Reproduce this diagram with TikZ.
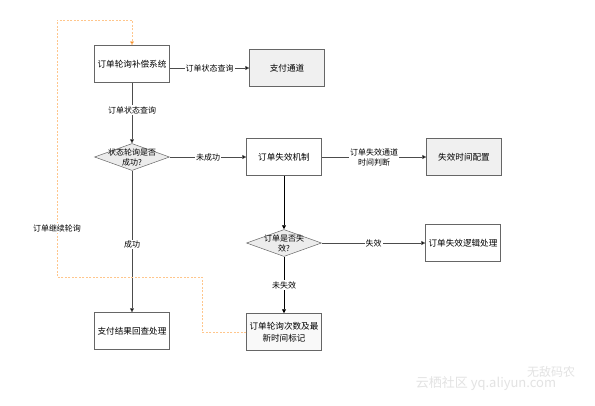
\documentclass[tikz,border=0pt]{standalone}
\usepackage{fontspec}
\setmainfont{Noto Sans CJK SC}
\usetikzlibrary{arrows.meta,shapes.geometric,shadows}
\begin{document}
\begin{tikzpicture}[x=1pt,y=-1pt,
  box/.style={draw=gray!80!black, line width=0.5pt, fill=white, minimum width=75pt, minimum height=37pt, align=center, font=\fontsize{8.6}{12}\selectfont, inner sep=1pt, drop shadow={shadow xshift=0.8pt, shadow yshift=-0.8pt, opacity=0.35}},
  gbox/.style={box, fill=gray!12},
  dia/.style={diamond, draw=gray!80!black, fill=gray!15, line width=0.5pt, minimum width=75pt, minimum height=27pt, inner sep=0pt},
  dtext/.style={align=center, font=\fontsize{8}{10}\selectfont, inner sep=0pt},
  conn/.style={draw=gray!60!black, line width=0.6pt, -{Triangle[length=4pt,width=4pt,fill=black]}},
  lab/.style={fill=white, font=\fontsize{8}{10}\selectfont, inner sep=1pt, align=center},
  loopline/.style={draw=orange!45, dashed, dash pattern=on 2pt off 1.5pt, line width=0.5pt},
  wmark/.style={text=gray!22, inner sep=0pt}
]
\useasboundingbox[fill=white] (0,0) rectangle (595,405);

\node[box] (a) at (132,64) {订单轮询补偿系统};
\node[gbox] (b) at (287,68) {支付通道};
\node[dia] (d1) at (132,157) {};
\node[dtext] (d1t) at (d1) {状态轮询是否\\成功?};
\node[box] (c) at (284,157) {订单失效机制};
\node[gbox] (e) at (464,157) {失效时间配置};
\node[dia] (d2) at (284,243) {};
\node[dtext] (d2t) at (d2) {订单是否失\\效?};
\node[box] (f) at (463,243) {订单失效逻辑处理};
\node[box, fill=gray!5] (g) at (284,332) {订单轮询次数及最\\新时间标记};
\node[box] (h) at (132,331) {支付结果回查处理};

\draw[conn] (a.east |- b.west) -- node[lab] {订单状态查询} (b.west);
\draw[conn] (a.south) -- node[lab, pos=0.45] {订单状态查询} (d1.north);
\draw[conn] (d1.east) -- node[lab] {未成功} (c.west);
\draw[conn] (c.east) -- node[lab] {订单失效通道\\时间判断} (e.west);
\draw[conn, draw=black, line width=0.8pt] (c.south) -- (d2.north);
\draw[conn] (d2.east) -- node[lab] {失效} (f.west);
\draw[conn, draw=black, line width=0.8pt] (d2.south) -- node[lab] {未失效} (g.north);
\draw[conn] (d1.south) -- node[lab, pos=0.52] {成功} (h.north);

\coordinate (l1) at (202,332);
\coordinate (l2) at (202,277);
\coordinate (l3) at (57,277);
\coordinate (l4) at (57,20);
\coordinate (l5) at (132,20);
\draw[loopline, -{Triangle[length=4pt,width=4pt,fill=orange!75!brown]}] (g.west) -- (l1) -- (l2) -- (l3) -- (l4) -- (l5) -- (a.north);
\node[lab] (ll) at (57,228) {订单继续轮询};

\node[wmark, font=\fontsize{13}{13}\selectfont] (w1) at (486,384) {云栖社区 yq.aliyun.com};
\node[wmark, font=\fontsize{12}{12}\selectfont] (w2) at (551,372) {无敌码农};
\end{tikzpicture}
\end{document}
